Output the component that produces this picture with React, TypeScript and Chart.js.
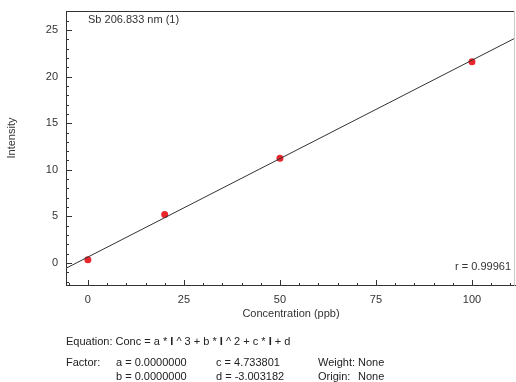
import React, { useEffect, useRef } from "react";
import { Chart, registerables } from "chart.js";

Chart.register(...registerables);

const concentrations = [0, 20, 50, 100];
const intensities = [0.35, 5.2, 11.25, 21.6];
const xTicks = [0, 25, 50, 75, 100];
const yTicks = [0, 5, 10, 15, 20, 25];
const xRange = [-5.7, 111.2];
const yRange = [-2.44, 27.04];
const factorC = 4.733801;
const factorD = -3.003182;
const titleText = "Sb 206.833 nm (1)";
const rText = "r = 0.99961";
const xTitle = "Concentration (ppb)";
const yTitle = "Intensity";

const FONT = "'Liberation Sans', Arial, sans-serif";

const fitLine = xRange.map((x) => ({ x, y: (x - factorD) / factorC }));

const decorPlugin = {
  id: "decor",
  afterDraw(chart: any) {
    const { ctx, chartArea, scales } = chart;
    const xs = scales.x;
    const ys = scales.y;
    ctx.save();
    ctx.lineWidth = 1;
    ctx.strokeStyle = "#333";
    ctx.beginPath();
    ctx.moveTo(chartArea.left, Math.round(chartArea.top) + 0.5);
    ctx.lineTo(chartArea.right, Math.round(chartArea.top) + 0.5);
    ctx.stroke();
    ctx.strokeStyle = "#ccc";
    ctx.beginPath();
    ctx.moveTo(Math.round(chartArea.right) - 0.5, chartArea.top);
    ctx.lineTo(Math.round(chartArea.right) - 0.5, chartArea.bottom);
    ctx.stroke();
    ctx.strokeStyle = "#333";
    const bottom = Math.round(chartArea.bottom);
    for (let v = -5; v <= 110; v += 5) {
      const px = Math.round(xs.getPixelForValue(v)) + 0.5;
      if (px < chartArea.left || px > chartArea.right) continue;
      const len = v % 25 === 0 ? 6 : 3;
      ctx.beginPath();
      ctx.moveTo(px, bottom);
      ctx.lineTo(px, bottom - len);
      ctx.stroke();
    }
    const left = Math.round(chartArea.left);
    for (let v = -2; v <= 27; v += 1) {
      const py = Math.round(ys.getPixelForValue(v)) + 0.5;
      if (py < chartArea.top || py > chartArea.bottom) continue;
      const len = v % 5 === 0 ? 6 : 3;
      ctx.beginPath();
      ctx.moveTo(left, py);
      ctx.lineTo(left + len, py);
      ctx.stroke();
    }
    ctx.fillStyle = "#333";
    ctx.font = `11px ${FONT}`;
    ctx.textBaseline = "middle";
    ctx.textAlign = "left";
    ctx.fillText(titleText, 88, 20);
    ctx.textAlign = "right";
    ctx.fillText(rText, 511, 267);
    ctx.textAlign = "center";
    ctx.fillText(xTitle, 291, 314);
    ctx.save();
    ctx.translate(12, 138);
    ctx.rotate(-Math.PI / 2);
    ctx.fillText(yTitle, 0, 0);
    ctx.restore();
    ctx.restore();
  },
};

const zeroPad = (s: any) => {
  s.paddingTop = 0;
  s.paddingBottom = 0;
  s.paddingLeft = 0;
  s.paddingRight = 0;
};

export default function App() {
  const ref = useRef<HTMLCanvasElement>(null);
  useEffect(() => {
    if (!ref.current) return;
    const chart = new Chart(ref.current, {
      type: "scatter",
      data: {
        datasets: [
          {
            type: "line",
            data: fitLine,
            borderColor: "#333",
            borderWidth: 1,
            pointRadius: 0,
            fill: false,
          } as any,
          {
            data: concentrations.map((x, i) => ({ x, y: intensities[i] })),
            backgroundColor: "#e8262b",
            borderColor: "#e8262b",
            pointRadius: 3.5,
            borderWidth: 0,
          },
        ],
      },
      options: {
        responsive: false,
        animation: false,
        devicePixelRatio: 1,
        layout: { autoPadding: false, padding: { top: 11, right: 1, left: 0, bottom: 0 } },
        plugins: {
          legend: { display: false },
          tooltip: { enabled: false },
        },
        scales: {
          x: {
            type: "linear",
            min: xRange[0],
            max: xRange[1],
            afterBuildTicks: (s: any) => {
              s.ticks = xTicks.map((v) => ({ value: v }));
            },
            afterFit: (s: any) => {
              s.height = 96.3;
              zeroPad(s);
            },
            grid: { display: true, drawOnChartArea: false, drawTicks: false },
            border: { display: true, color: "#333", width: 1 },
            ticks: {
              padding: 8,
              color: "#333",
              font: { family: FONT, size: 11 },
              maxRotation: 0,
            },
          },
          y: {
            type: "linear",
            min: yRange[0],
            max: yRange[1],
            afterBuildTicks: (s: any) => {
              s.ticks = yTicks.map((v) => ({ value: v }));
            },
            afterFit: (s: any) => {
              s.width = 66;
              zeroPad(s);
            },
            grid: { display: true, drawOnChartArea: false, drawTicks: false },
            border: { display: true, color: "#333", width: 1 },
            ticks: {
              padding: 8,
              color: "#333",
              font: { family: FONT, size: 11 },
            },
          },
        },
      },
      plugins: [decorPlugin],
    });
    return () => chart.destroy();
  }, []);

  const txt: React.CSSProperties = {
    position: "absolute",
    fontFamily: FONT,
    fontSize: 11,
    lineHeight: "13px",
    color: "#222",
    whiteSpace: "pre",
  };

  return (
    <div style={{ position: "fixed", left: 0, top: 0, width: 516, height: 382, background: "#fff" }}>
      <canvas ref={ref} width={516} height={382} style={{ position: "absolute", left: 0, top: 0 }} />
      <div style={{ ...txt, left: 66, top: 335 }}>
        Equation: Conc = a * <b>I</b> ^ 3 + b * <b>I</b> ^ 2 + c * <b>I</b> + d
      </div>
      <div style={{ ...txt, left: 66, top: 355.5 }}>Factor:</div>
      <div style={{ ...txt, left: 116, top: 355.5 }}>a = 0.0000000</div>
      <div style={{ ...txt, left: 116, top: 369.5 }}>b = 0.0000000</div>
      <div style={{ ...txt, left: 216, top: 355.5 }}>c = {factorC.toFixed(6)}</div>
      <div style={{ ...txt, left: 216, top: 369.5 }}>d = {factorD.toFixed(6)}</div>
      <div style={{ ...txt, left: 318, top: 355.5 }}>Weight:</div>
      <div style={{ ...txt, left: 358, top: 355.5 }}>None</div>
      <div style={{ ...txt, left: 318, top: 369.5 }}>Origin:</div>
      <div style={{ ...txt, left: 358, top: 369.5 }}>None</div>
    </div>
  );
}
